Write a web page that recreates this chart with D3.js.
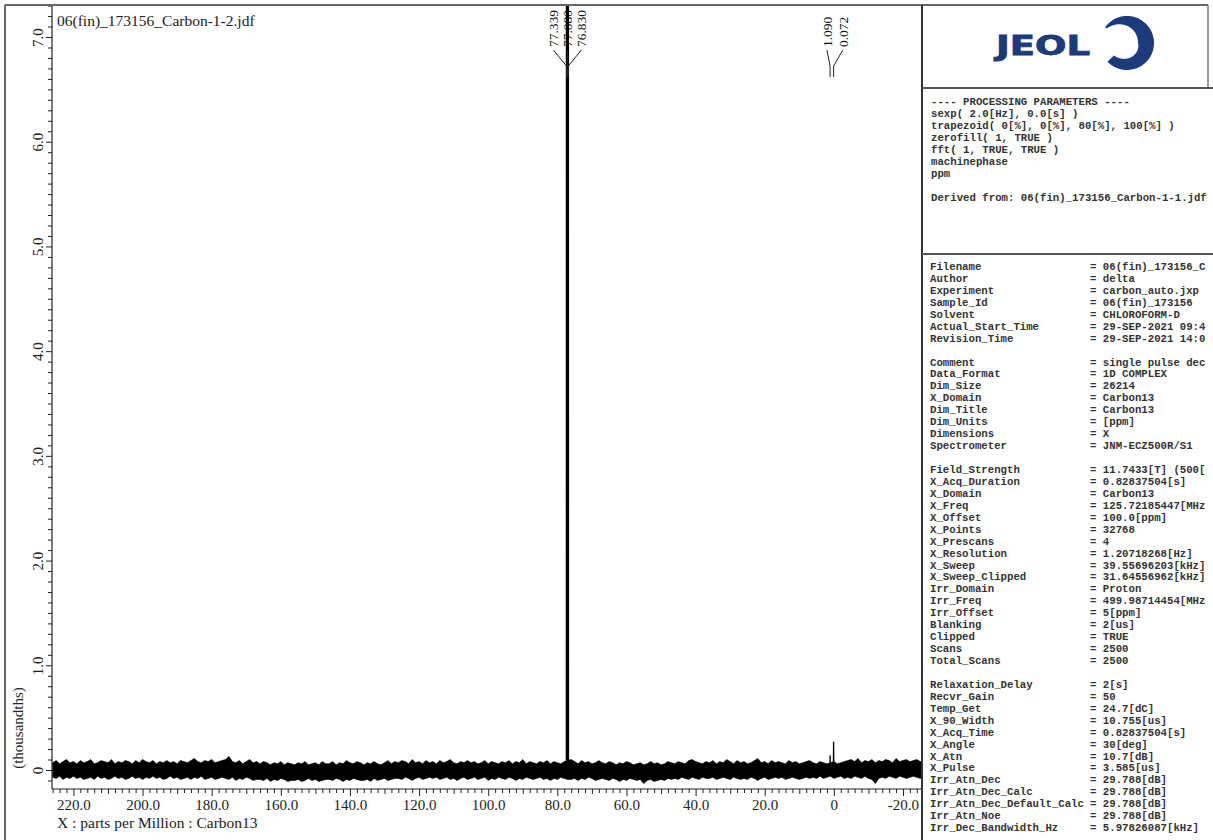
<!DOCTYPE html>
<html>
<head>
<meta charset="utf-8">
<script src="https://cdn.jsdelivr.net/npm/d3@7"></script>
<style>
  html, body { margin: 0; padding: 0; background: #fff; }
  svg { display: block; }
</style>
</head>
<body>
<script>
// ---------------- DATA ----------------
const title = "06(fin)_173156_Carbon-1-2.jdf";
const xAxisTitle = "X : parts per Million : Carbon13";
const yAxisTitle = "(thousandths)";
const xDomainPpm = [226.2, -25.5];
const xMajorTicks = [220, 200, 180, 160, 140, 120, 100, 80, 60, 40, 20, 0, -20];
const yMajorTicks = [0, 1, 2, 3, 4, 5, 6, 7];

// baseline noise envelope (thousandths), one value per ppm from 226 down to -26
const noiseStartPpm = 226;
const noiseUpper = [
 0.07,0.09,0.06,0.08,0.10,0.07,0.08,0.06,0.09,0.07,
 0.08,0.10,0.06,0.07,0.09,0.08,0.07,0.10,0.06,0.08,
 0.07,0.09,0.08,0.06,0.09,0.07,0.10,0.08,0.07,0.09,
 0.06,0.08,0.07,0.09,0.07,0.08,0.06,0.09,0.08,0.07,
 0.09,0.11,0.08,0.07,0.09,0.08,0.10,0.07,0.08,0.09,
 0.10,0.13,0.08,0.07,0.09,0.06,0.08,0.10,0.07,0.08,
 0.06,0.08,0.07,0.05,0.07,0.06,0.08,0.05,0.07,0.06,
 0.05,0.07,0.06,0.08,0.05,0.06,0.07,0.05,0.08,0.06,
 0.06,0.08,0.05,0.07,0.06,0.09,0.07,0.06,0.08,0.07,
 0.05,0.07,0.06,0.08,0.06,0.05,0.07,0.09,0.06,0.08,
 0.07,0.09,0.08,0.06,0.10,0.07,0.08,0.06,0.09,0.07,
 0.08,0.06,0.09,0.07,0.08,0.10,0.07,0.06,0.08,0.07,
 0.09,0.07,0.08,0.06,0.07,0.09,0.06,0.08,0.07,0.06,
 0.08,0.07,0.09,0.06,0.08,0.07,0.10,0.06,0.08,0.07,
 0.06,0.08,0.07,0.09,0.06,0.08,0.07,0.06,0.08,0.09,
 0.10,0.08,0.06,0.09,0.07,0.08,0.06,0.07,0.09,0.07,
 0.06,0.08,0.07,0.05,0.07,0.06,0.08,0.07,0.05,0.06,
 0.07,0.05,0.06,0.08,0.06,0.07,0.05,0.06,0.08,0.07,
 0.06,0.08,0.07,0.06,0.09,0.10,0.08,0.07,0.06,0.08,
 0.07,0.09,0.06,0.08,0.07,0.10,0.08,0.06,0.09,0.07,
 0.08,0.06,0.07,0.09,0.11,0.07,0.08,0.06,0.09,0.07,
 0.08,0.07,0.06,0.09,0.07,0.08,0.06,0.07,0.08,0.09,
 0.07,0.06,0.08,0.07,0.06,0.07,0.08,0.06,0.07,0.08,
 0.09,0.10,0.08,0.11,0.07,0.09,0.08,0.10,0.07,0.09,
 0.08,0.10,0.09,0.07,0.11,0.08,0.09,0.10,0.08,0.09,
 0.10,0.08,0.09
];
const noiseLower = [
 -0.07,-0.08,-0.06,-0.09,-0.07,-0.08,-0.06,-0.08,-0.07,-0.09,
 -0.08,-0.07,-0.09,-0.06,-0.08,-0.07,-0.09,-0.08,-0.06,-0.08,
 -0.07,-0.09,-0.08,-0.06,-0.08,-0.07,-0.09,-0.07,-0.08,-0.06,
 -0.08,-0.07,-0.09,-0.08,-0.06,-0.08,-0.07,-0.09,-0.08,-0.07,
 -0.09,-0.07,-0.08,-0.06,-0.09,-0.08,-0.07,-0.09,-0.08,-0.07,
 -0.08,-0.09,-0.07,-0.10,-0.08,-0.09,-0.07,-0.08,-0.10,-0.09,
 -0.09,-0.10,-0.08,-0.11,-0.09,-0.10,-0.08,-0.09,-0.11,-0.10,
 -0.10,-0.09,-0.11,-0.10,-0.08,-0.10,-0.09,-0.11,-0.10,-0.09,
 -0.09,-0.10,-0.08,-0.09,-0.11,-0.09,-0.10,-0.08,-0.09,-0.10,
 -0.10,-0.09,-0.11,-0.08,-0.10,-0.09,-0.08,-0.10,-0.09,-0.08,
 -0.08,-0.09,-0.07,-0.08,-0.10,-0.08,-0.07,-0.09,-0.08,-0.07,
 -0.08,-0.07,-0.09,-0.08,-0.07,-0.09,-0.08,-0.10,-0.08,-0.07,
 -0.09,-0.08,-0.07,-0.09,-0.08,-0.07,-0.10,-0.08,-0.09,-0.07,
 -0.08,-0.09,-0.07,-0.08,-0.10,-0.08,-0.09,-0.07,-0.08,-0.09,
 -0.08,-0.07,-0.09,-0.08,-0.10,-0.08,-0.09,-0.07,-0.08,-0.09,
 -0.09,-0.08,-0.10,-0.08,-0.09,-0.07,-0.08,-0.10,-0.09,-0.08,
 -0.09,-0.10,-0.08,-0.09,-0.11,-0.09,-0.10,-0.08,-0.09,-0.10,
 -0.09,-0.13,-0.10,-0.09,-0.11,-0.10,-0.09,-0.10,-0.08,-0.09,
 -0.08,-0.09,-0.07,-0.08,-0.09,-0.07,-0.08,-0.09,-0.07,-0.08,
 -0.08,-0.07,-0.09,-0.08,-0.07,-0.08,-0.09,-0.07,-0.08,-0.09,
 -0.08,-0.09,-0.07,-0.08,-0.10,-0.08,-0.07,-0.09,-0.08,-0.07,
 -0.08,-0.07,-0.09,-0.08,-0.07,-0.08,-0.09,-0.08,-0.07,-0.08,
 -0.07,-0.08,-0.06,-0.08,-0.07,-0.06,-0.08,-0.07,-0.06,-0.08,
 -0.07,-0.08,-0.06,-0.07,-0.08,-0.06,-0.08,-0.09,-0.13,-0.08,
 -0.07,-0.08,-0.06,-0.07,-0.08,-0.06,-0.07,-0.08,-0.07,-0.06,
 -0.07,-0.08,-0.06
];

// peaks: position (ppm), height (thousandths), label group
const peakPpm    = [77.339, 77.080, 76.830, 1.090, 0.072];
const peakHeight = [14.0, 15.0, 14.0, 0.14, 0.27];
const peakGroup  = [0, 0, 0, 1, 1];

// right panel text
const processingLines = [
  "---- PROCESSING PARAMETERS ----",
  "sexp( 2.0[Hz], 0.0[s] )",
  "trapezoid( 0[%], 0[%], 80[%], 100[%] )",
  "zerofill( 1, TRUE )",
  "fft( 1, TRUE, TRUE )",
  "machinephase",
  "ppm",
  "",
  "Derived from: 06(fin)_173156_Carbon-1-1.jdf"
];
const paramNames = [
  "Filename","Author","Experiment","Sample_Id","Solvent","Actual_Start_Time","Revision_Time","",
  "Comment","Data_Format","Dim_Size","X_Domain","Dim_Title","Dim_Units","Dimensions","Spectrometer","",
  "Field_Strength","X_Acq_Duration","X_Domain","X_Freq","X_Offset","X_Points","X_Prescans","X_Resolution",
  "X_Sweep","X_Sweep_Clipped","Irr_Domain","Irr_Freq","Irr_Offset","Blanking","Clipped","Scans","Total_Scans","",
  "Relaxation_Delay","Recvr_Gain","Temp_Get","X_90_Width","X_Acq_Time","X_Angle","X_Atn","X_Pulse",
  "Irr_Atn_Dec","Irr_Atn_Dec_Calc","Irr_Atn_Dec_Default_Calc","Irr_Atn_Noe","Irr_Dec_Bandwidth_Hz"
];
const paramValues = [
  "06(fin)_173156_C","delta","carbon_auto.jxp","06(fin)_173156","CHLOROFORM-D","29-SEP-2021 09:4","29-SEP-2021 14:0","",
  "single pulse dec","1D COMPLEX","26214","Carbon13","Carbon13","[ppm]","X","JNM-ECZ500R/S1","",
  "11.7433[T] (500[","0.82837504[s]","Carbon13","125.72185447[MHz","100.0[ppm]","32768","4","1.20718268[Hz]",
  "39.55696203[kHz]","31.64556962[kHz]","Proton","499.98714454[MHz","5[ppm]","2[us]","TRUE","2500","2500","",
  "2[s]","50","24.7[dC]","10.755[us]","0.82837504[s]","30[deg]","10.7[dB]","3.585[us]",
  "29.788[dB]","29.788[dB]","29.788[dB]","29.788[dB]","5.97826087[kHz]"
];

// ---------------- DRAWING ----------------
const W = 1213, H = 840;
const plot = { left: 52, right: 922, top: 5, bottom: 789 };
const serif = "'Liberation Serif', 'Times New Roman', serif";
const mono = "'Liberation Mono', 'Courier New', monospace";

const svg = d3.select("body").append("svg").attr("width", W).attr("height", H);
const defs = svg.append("defs");

const x = d3.scaleLinear().domain(xDomainPpm).range([plot.left, plot.right]);
const y = d3.scaleLinear().domain([0, 7]).range([770, 37]);

defs.append("clipPath").attr("id", "plotClip")
  .append("rect").attr("x", plot.left).attr("y", plot.top)
  .attr("width", plot.right - plot.left).attr("height", plot.bottom - plot.top);
defs.append("clipPath").attr("id", "panelClip")
  .append("rect").attr("x", 923).attr("y", 0).attr("width", 290).attr("height", H);

// noise band
const noiseData = noiseUpper.map((u, i) => ({ ppm: noiseStartPpm - i, hi: u, lo: noiseLower[i] }));
const area = d3.area().x(d => x(d.ppm)).y0(d => y(d.lo)).y1(d => y(d.hi));
const gSpec = svg.append("g").attr("clip-path", "url(#plotClip)");
gSpec.append("path").datum(noiseData).attr("d", area)
  .attr("fill", "#000").attr("stroke", "#000").attr("stroke-width", 0.6);

// peaks
const peakLine = d3.line().x(d => x(d[0])).y(d => y(d[1]));
peakPpm.forEach((p, i) => {
  gSpec.append("path")
    .datum([[p + 0.06, 0], [p, peakHeight[i]], [p - 0.06, 0]])
    .attr("d", peakLine).attr("fill", "none").attr("stroke", "#000").attr("stroke-width", 1.3);
});

// peak labels with leader lines
const groups = d3.groups(peakPpm.map((p, i) => ({ p, g: peakGroup[i] })), d => d.g);
const labelSpacing = [14, 16];
const labelShift = [0, 3];
groups.forEach(([g, items]) => {
  const cx = d3.mean(items, d => x(d.p)) + labelShift[g];
  const n = items.length;
  items.forEach((d, i) => {
    const lx = cx + (i - (n - 1) / 2) * labelSpacing[g];
    const px = x(d.p);
    svg.append("text")
      .attr("transform", `translate(${lx},47) rotate(-90)`)
      .attr("dy", "0.35em")
      .attr("font-family", serif).attr("font-size", 13.5).attr("fill", "#111")
      .text(d.p.toFixed(3));
    svg.append("path")
      .attr("d", `M${lx},50 L${px},66 L${px},77`)
      .attr("fill", "none").attr("stroke", "#222").attr("stroke-width", 1);
  });
});

// Y axis
svg.append("line").attr("x1", plot.left).attr("x2", plot.left)
  .attr("y1", plot.top).attr("y2", plot.bottom).attr("stroke", "#222").attr("stroke-width", 1.2);
const yMinor = d3.range(-1, 74).filter(i => i % 10 !== 0).map(i => i / 10);
const yMinorAxis = svg.append("g").attr("transform", `translate(${plot.left},0)`)
  .call(d3.axisLeft(y).tickValues(yMinor).tickSize(4).tickFormat(""));
yMinorAxis.select(".domain").remove();
const yAxis = svg.append("g").attr("transform", `translate(${plot.left},0)`)
  .call(d3.axisLeft(y).tickValues(yMajorTicks).tickSize(6)
    .tickFormat(d => d === 0 ? "0" : d.toFixed(1)));
yAxis.select(".domain").remove();
yAxis.selectAll("text")
  .attr("x", null).attr("dy", null)
  .attr("transform", "translate(-9,0) rotate(-90)")
  .attr("text-anchor", "middle")
  .attr("font-family", serif).attr("font-size", 15).attr("fill", "#222");
svg.selectAll(".tick line").attr("stroke", "#222");

svg.append("text")
  .attr("transform", "translate(23,728) rotate(-90)")
  .attr("text-anchor", "middle")
  .attr("font-family", serif).attr("font-size", 15).attr("fill", "#222")
  .text(yAxisTitle);

// X axis
svg.append("line").attr("x1", plot.left).attr("x2", plot.right)
  .attr("y1", plot.bottom).attr("y2", plot.bottom).attr("stroke", "#222").attr("stroke-width", 1.2);
const xMinor2 = d3.range(-24, 227, 2).filter(v => v % 10 !== 0);
const xMinor10 = d3.range(-20, 227, 10).filter(v => v % 20 !== 0);
const xa1 = svg.append("g").attr("transform", `translate(0,${plot.bottom})`)
  .call(d3.axisBottom(x).tickValues(xMinor2).tickSize(4).tickFormat(""));
xa1.select(".domain").remove();
const xa2 = svg.append("g").attr("transform", `translate(0,${plot.bottom})`)
  .call(d3.axisBottom(x).tickValues(xMinor10).tickSize(5).tickFormat(""));
xa2.select(".domain").remove();
const xAxis = svg.append("g").attr("transform", `translate(0,${plot.bottom})`)
  .call(d3.axisBottom(x).tickValues(xMajorTicks).tickSize(7)
    .tickFormat(d => d === 0 ? "0" : d.toFixed(1)));
xAxis.select(".domain").remove();
xAxis.selectAll("text").attr("font-family", serif).attr("font-size", 15).attr("fill", "#222");
svg.selectAll(".tick line").attr("stroke", "#222");

svg.append("text").attr("x", 57).attr("y", 828)
  .attr("font-family", serif).attr("font-size", 15.5).attr("fill", "#222")
  .text(xAxisTitle);

// title
svg.append("text").attr("x", 57).attr("y", 26)
  .attr("font-family", serif).attr("font-size", 15.5).attr("fill", "#222")
  .text(title);

// frame
const frame = svg.append("g").attr("fill", "none");
frame.append("line").attr("x1", 5).attr("x2", 1208).attr("y1", 5).attr("y2", 5)
  .attr("stroke", "#666").attr("stroke-width", 2);
frame.append("line").attr("x1", 5).attr("x2", 5).attr("y1", 5).attr("y2", H)
  .attr("stroke", "#666").attr("stroke-width", 2);
frame.append("line").attr("x1", 1208).attr("x2", 1208).attr("y1", 5).attr("y2", 88)
  .attr("stroke", "#777").attr("stroke-width", 1.5);
frame.append("line").attr("x1", 922).attr("x2", 922).attr("y1", 5).attr("y2", H)
  .attr("stroke", "#333").attr("stroke-width", 2);
frame.append("line").attr("x1", 922).attr("x2", W).attr("y1", 88).attr("y2", 88)
  .attr("stroke", "#555").attr("stroke-width", 2);
frame.append("line").attr("x1", 922).attr("x2", W).attr("y1", 254).attr("y2", 254)
  .attr("stroke", "#555").attr("stroke-width", 2);

// JEOL logo
const navy = "#1d3a7a";
svg.append("text").attr("x", 996).attr("y", 55)
  .attr("textLength", 94).attr("lengthAdjust", "spacingAndGlyphs")
  .attr("font-family", "'DejaVu Sans', sans-serif").attr("font-weight", "bold")
  .attr("font-size", 26).attr("fill", navy)
  .attr("stroke", navy).attr("stroke-width", 0.8)
  .text("JEOL");
(function ring() {
  const cx = 1127, cy = 43, R = 27;
  const a0 = -0.95, a1 = 3.95, N = 80, mid = Math.PI / 2;
  const outer = [], inner = [];
  for (let k = 0; k <= N; k++) {
    const t = a0 + (a1 - a0) * k / N;
    let th;
    if (t < mid) th = 2 + 14 * Math.sin(Math.PI / 2 * (t - a0) / (mid - a0));
    else th = 16 - 7 * (t - mid) / (a1 - mid);
    outer.push([cx + R * Math.sin(t), cy - R * Math.cos(t)]);
    inner.push([cx + (R - th) * Math.sin(t), cy - (R - th) * Math.cos(t)]);
  }
  const pts = outer.concat(inner.reverse());
  svg.append("path").attr("d", "M" + pts.map(p => p.join(",")).join("L") + "Z").attr("fill", navy);
})();

// panel texts
const gProc = svg.append("g").attr("clip-path", "url(#panelClip)")
  .attr("font-family", mono).attr("font-size", 10.7)
  .attr("font-weight", "bold").attr("fill", "#333");
processingLines.forEach((s, i) => {
  gProc.append("text").attr("x", 931).attr("y", 105 + i * 12).attr("xml:space", "preserve").text(s);
});
paramNames.forEach((s, i) => {
  if (!s) return;
  const yy = 270 + i * 11.94;
  gProc.append("text").attr("x", 930).attr("y", yy).text(s);
  gProc.append("text").attr("x", 1090).attr("y", yy).attr("xml:space", "preserve").text("= " + paramValues[i]);
});
</script>
</body>
</html>
